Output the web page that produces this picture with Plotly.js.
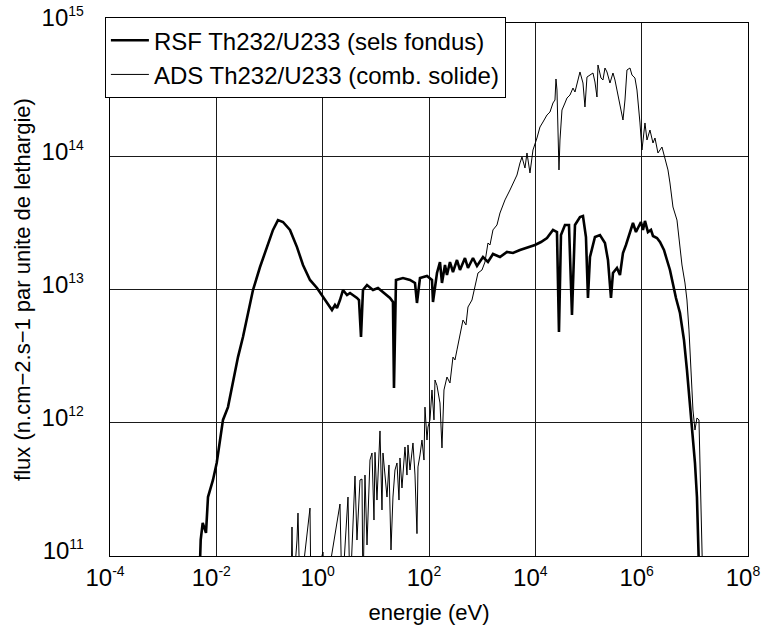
<!DOCTYPE html>
<html>
<head>
<meta charset="utf-8">
<script src="https://cdn.plot.ly/plotly-3.0.1.min.js"></script>
<style>html,body{margin:0;padding:0;background:#fff;}#chart{width:764px;height:625px;}</style>
</head>
<body>
<div id="chart"></div>
<script>
// RSF Th232/U233 (sels fondus) : energie (eV) / flux
const rsfEnergy = [4.93e-3,5.08e-3,5.54e-3,6.39e-3,6.97e-3,8.65e-3,1.016e-2,1.17e-2,1.334e-2,1.657e-2,2.06e-2,2.555e-2,3.17e-2,3.94e-2,4.89e-2,6.63e-2,8.97e-2,0.1163,0.1444,0.1794,0.2428,0.3289,0.4265,0.5774,0.782,1.014,1.206,1.497,1.704,1.859,2.117,2.41,2.87,3.27,4.42,4.82,5.26,5.73,6.82,8.84,10.98,13.63,18.46,21.0,21.94,23.93,32.4,43.9,54.5,59.4,67.7,91.6,113.8,118.8,141.3,160.9,175.4,199.8,217.8,248,282.5,336,382.4,475,541,672,799,1036,1286,1597,2163,2929,3798,5142,6963,9845,1.277e4,1.656e4,2.147e4,2.553e4,2.784e4,3.035e4,3.609e4,4.293e4,4.89e4,5.567e4,6.91e4,7.87e4,8.96e4,9.77e4,1.066e5,1.323e5,1.643e5,2.04e5,2.324e5,2.646e5,2.886e5,3.43e5,3.908e5,4.45e5,5.066e5,5.525e5,6.292e5,6.862e5,7.813e5,8.52e5,9.7e5,1.058e6,1.154e6,1.313e6,1.496e6,1.632e6,1.941e6,2.21e6,2.627e6,2.991e6,3.406e6,3.88e6,4.418e6,5.254e6,6.246e6,7.112e6,8.1e6,8.83e6,1.006e7,1.096e7,1.145e7,1.196e7];
const rsfFlux = [9e10,1.32e11,1.77e11,1.49e11,2.77e11,3.72e11,4.99e11,7.42e11,1.05e12,1.31e12,1.99e12,3.11e12,4.40e12,6.66e12,9.91e12,1.475e13,2.08e13,2.80e13,3.32e13,3.21e13,2.80e13,2.08e13,1.527e13,1.179e13,1.026e13,8.78e12,8.06e12,7.02e12,7.65e12,7.26e12,8.34e12,9.91e12,9.09e12,9.41e12,8.64e12,8.34e12,4.40e12,9.91e12,1.081e13,9.91e12,1.026e13,9.58e12,8.64e12,8.06e12,1.823e12,1.179e13,1.22e13,1.179e13,1.119e13,7.92e12,1.22e13,1.263e13,1.179e13,8.06e12,1.33e13,1.608e13,1.119e13,1.527e13,1.285e13,1.608e13,1.353e13,1.665e13,1.401e13,1.723e13,1.45e13,1.723e13,1.501e13,1.754e13,1.608e13,1.847e13,1.754e13,1.912e13,1.879e13,1.979e13,2.048e13,2.158e13,2.272e13,2.435e13,2.80e13,2.70e13,4.80e12,2.564e13,3.05e13,3.05e13,6.44e12,3.05e13,3.50e13,3.56e13,2.477e13,8.64e12,1.754e13,2.477e13,2.564e13,2.234e13,1.665e13,8.64e12,1.33e13,1.45e13,1.285e13,1.879e13,2.158e13,2.435e13,2.80e13,3.155e13,2.70e13,2.895e13,3.21e13,2.80e13,3.27e13,2.70e13,2.80e13,2.52e13,2.435e13,2.272e13,1.979e13,1.665e13,1.401e13,1.10e13,8.64e12,6.66e12,4.18e12,2.488e12,1.407e12,8.82e11,4.99e11,2.77e11,1.567e11,8e10];

// ADS Th232/U233 (comb. solide) : energie (eV) / flux
const adsEnergy = [0.2535,0.2649,0.2765,0.3289,0.3434,0.3745,0.5774,0.603,1.014,1.105,2.117,2.31,2.994,3.27,4.055,4.42,5.035,5.49,5.73,6.25,6.82,7.76,8.47,9.23,9.64,10.51,11.97,13.05,13.63,14.86,16.21,17.67,19.28,21.0,22.92,25.0,27.26,28.46,31.03,35.34,38.54,40.24,43.9,49.96,54.5,59.4,62.05,67.7,73.8,80.5,84.0,91.6,95.7,104.3,113.8,124.1,129.6,141.3,160.9,175.4,191.3,217.8,248,282.5,308,336,382.4,435.6,496,541,643,732,834,992,1129,1286,1403,1597,1899,2163,2685,3334,3798,4515,5142,5609,6387,6963,7931,9029,1.073e4,1.223e4,1.392e4,1.656e4,1.885e4,2.147e4,2.341e4,2.444e4,2.553e4,2.784e4,2.907e4,3.17e4,3.609e4,3.936e4,4.483e4,5.105e4,5.567e4,6.34e4,6.91e4,7.87e4,8.58e4,9.36e4,1.066e5,1.214e5,1.323e5,1.443e5,1.507e5,1.716e5,1.872e5,2.04e5,2.225e5,2.534e5,2.886e5,3.146e5,3.43e5,3.908e5,4.45e5,4.852e5,5.29e5,6.026e5,6.57e5,7.48e5,8.16e5,9.29e5,1.013e6,1.154e6,1.258e6,1.432e6,1.632e6,1.779e6,2.025e6,2.41e6,2.744e6,3.124e6,3.406e6,3.88e6,4.613e6,5.254e6,5.73e6,6.525e6,7.112e6,7.76e6,8.1e6,8.83e6,9.22e6,1.006e7,1.096e7,1.196e7,1.249e7,1.304e7,1.362e7,1.39e7];
const adsFlux = [5e10,1.651e11,5e10,1.318e11,2.10e11,5e10,2.29e11,5e10,1.07e11,5e10,2.455e11,5e10,2.77e11,5e10,3.985e11,1.318e11,3.72e11,3.78e11,5e10,4.05e11,1.21e11,5.25e11,5.93e11,1.862e11,6.0e11,2.63e11,8.68e11,2.215e11,5.93e11,3.72e11,2.77e11,4.82e11,1.11e11,2.77e11,4.42e11,4.99e11,2.63e11,5.44e11,3.24e11,6.58e11,4.05e11,6.81e11,4.42e11,7.05e11,4.05e11,1.472e11,4.66e11,5.73e11,7.42e11,5.25e11,1.31e12,7.42e11,9.29e11,1.05e12,1.762e12,1.05e12,2.093e12,1.9e12,1.407e12,6.47e11,1.762e12,2.204e12,1.988e12,3.11e12,2.96e12,3.52e12,4.556e12,5.90e12,5.42e12,7.39e12,8.34e12,1.044e13,1.33e13,1.401e13,1.608e13,2.234e13,2.158e13,2.80e13,3.05e13,3.75e13,4.70e13,5.58e13,6.30e13,7.23e13,8.90e13,9.87e13,8.16e13,1.058e14,7.49e13,1.114e14,1.371e14,1.658e14,1.807e14,2.04e14,2.148e14,2.51e14,2.643e14,3.80e14,3.14e14,7.89e13,1.324e14,2.223e14,2.51e14,2.735e14,2.88e14,3.25e14,3.035e14,3.735e14,4.29e14,3.546e14,2.343e14,3.93e14,4.07e14,4.215e14,3.607e14,2.784e14,4.84e14,3.866e14,3.735e14,4.595e14,4.29e14,3.546e14,4.215e14,3.735e14,3.14e14,2.343e14,1.871e14,2.643e14,4.44e14,4.595e14,4.07e14,3.866e14,3.14e14,1.777e14,1.114e14,1.777e14,1.324e14,1.574e14,1.257e14,1.371e14,1.058e14,1.173e14,9.37e13,7.89e13,6.30e13,4.16e13,3.32e13,1.979e13,1.527e13,1.119e13,8.34e12,4.97e12,3.70e12,1.92e12,1.247e12,8.82e11,1.086e12,1.05e12,4.99e11,2.63e11,1.318e11,8e10];

const seriesNames = ['RSF Th232/U233 (sels fondus)', 'ADS Th232/U233 (comb. solide)'];
const xTickVals = [1e-4, 1e-2, 1, 1e2, 1e4, 1e6, 1e8];
const xTickExp = ['-4', '-2', '0', '2', '4', '6', '8'];
const yTickVals = [1e11, 1e12, 1e13, 1e14, 1e15];
const yTickExp = ['11', '12', '13', '14', '15'];

const powerLabel = e => '10<sup><span style="font-size:14px">' + e + '</span></sup>';

const traces = [
  {x: rsfEnergy, y: rsfFlux, name: seriesNames[0], type: 'scatter', mode: 'lines',
   line: {color: '#000', width: 2.6}},
  {x: adsEnergy, y: adsFlux, name: seriesNames[1], type: 'scatter', mode: 'lines',
   line: {color: '#000', width: 1}}
];

const layout = {
  width: 764, height: 625,
  margin: {l: 110, r: 16, t: 23, b: 69},
  paper_bgcolor: '#fff', plot_bgcolor: '#fff',
  font: {family: 'Liberation Sans, Arial, sans-serif', size: 22, color: '#000'},
  showlegend: true,
  legend: {x: -0.008, y: 1.011, xanchor: 'left', yanchor: 'top',
           bgcolor: '#fff', bordercolor: '#000', borderwidth: 1,
           font: {size: 24, color: '#000'}, tracegroupgap: 0, itemwidth: 38},
  xaxis: {type: 'log', range: [-4, 8], tickvals: xTickVals, ticktext: xTickExp.map(powerLabel),
          tickfont: {size: 24}, ticklabeloverflow: 'allow', ticklabelshift: -5,
          showgrid: true, gridcolor: '#1a1a1a', gridwidth: 1,
          showline: true, linecolor: '#000', linewidth: 1.3, mirror: true,
          ticks: '', zeroline: false,
          title: {text: 'energie (eV)', font: {size: 22}}},
  yaxis: {type: 'log', range: [11, 15], tickvals: yTickVals, ticktext: yTickExp.map(powerLabel),
          tickfont: {size: 24}, ticklabelstandoff: 20, ticklabelshift: -5, ticklabeloverflow: 'allow',
          showgrid: true, gridcolor: '#1a1a1a', gridwidth: 1,
          showline: true, linecolor: '#000', linewidth: 1.3, mirror: true,
          ticks: '', zeroline: false,
          title: {text: 'flux (n.cm\u22122.s\u22121 par unite de lethargie)', font: {size: 22}, standoff: 5}}
};

Plotly.newPlot('chart', traces, layout, {displayModeBar: false, staticPlot: true});
</script>
</body>
</html>
